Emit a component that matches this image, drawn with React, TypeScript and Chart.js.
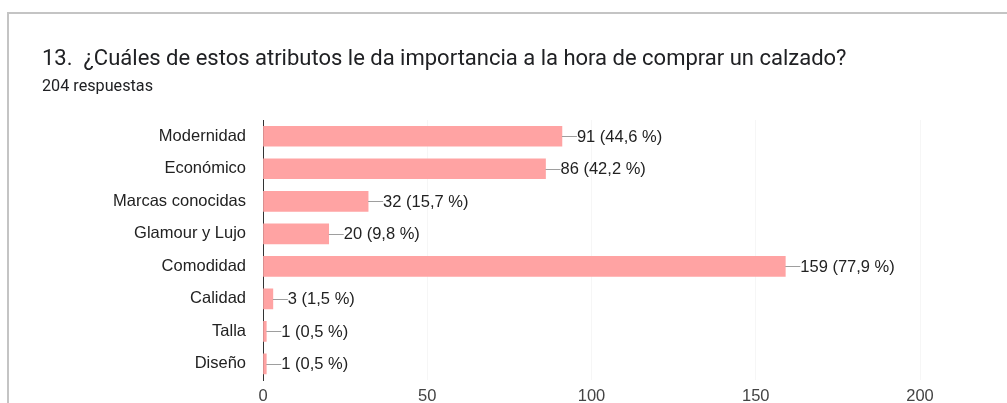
import React, { useEffect, useRef } from "react";
import { Chart, registerables } from "chart.js";

Chart.register(...registerables);

const categories = [
  "Modernidad",
  "Económico",
  "Marcas conocidas",
  "Glamour y Lujo",
  "Comodidad",
  "Calidad",
  "Talla",
  "Diseño",
];
const counts = [91, 86, 32, 20, 159, 3, 1, 1];
const totalResponses = 204;
const xTicks = [0, 50, 100, 150, 200];
const titleText = "13.  ¿Cuáles de estos atributos le da importancia a la hora de comprar un calzado?";
const subtitleText = "204 respuestas";

const CHART_FONT = "'Liberation Sans', Arial, sans-serif";
const TITLE_FONT = "Roboto, Arial, sans-serif";

const labelPlugin = {
  id: "barLabels",
  afterDatasetsDraw(chart: any) {
    const ctx = chart.ctx;
    const meta = chart.getDatasetMeta(0);
    ctx.save();
    ctx.font = `16.5px ${CHART_FONT}`;
    ctx.textBaseline = "middle";
    ctx.textAlign = "left";
    meta.data.forEach((bar: any, i: number) => {
      const v = counts[i];
      const pct = ((v / totalResponses) * 100).toFixed(1).replace(".", ",");
      const x = bar.x;
      const y = bar.y;
      ctx.strokeStyle = "#9e9e9e";
      ctx.lineWidth = 1;
      ctx.beginPath();
      ctx.moveTo(x, Math.round(y) + 0.5);
      ctx.lineTo(x + 15, Math.round(y) + 0.5);
      ctx.stroke();
      ctx.fillStyle = "#222222";
      ctx.fillText(`${v} (${pct} %)`, x + 15, y + 1);
    });
    ctx.restore();
  },
};

export default function App() {
  const canvasRef = useRef<HTMLCanvasElement | null>(null);

  useEffect(() => {
    if (!canvasRef.current) return;
    const chart = new Chart(canvasRef.current, {
      type: "bar",
      data: {
        labels: categories,
        datasets: [
          {
            data: counts,
            backgroundColor: "#ffa3a3",
            borderWidth: 0,
            barThickness: 20,
          },
        ],
      },
      options: {
        indexAxis: "y",
        animation: false,
        responsive: false,
        maintainAspectRatio: false,
        layout: {
          autoPadding: false,
          padding: { top: 120, right: 87, bottom: 0, left: 0 },
        },
        plugins: {
          legend: { display: false },
          tooltip: { enabled: false },
        },
        scales: {
          x: {
            min: 0,
            max: 200,
            afterBuildTicks: (scale: any) => {
              scale.ticks = xTicks.map((v) => ({ value: v }));
            },
            grid: {
              color: "rgba(0,0,0,0.035)",
              drawTicks: false,
            },
            border: { display: false },
            ticks: {
              padding: 6,
              color: "#444444",
              font: { family: CHART_FONT, size: 16.5 },
            },
          },
          y: {
            grid: { display: false, drawTicks: false },
            border: { display: true, color: "#333333", width: 1 },
            ticks: {
              padding: 17,
              color: "#222222",
              font: { family: CHART_FONT, size: 16.5 },
            },
            afterFit: (scale: any) => {
              scale.width = 263;
            },
          },
        },
      },
      plugins: [labelPlugin],
    });
    return () => chart.destroy();
  }, []);

  return (
    <div
      style={{
        position: "fixed",
        left: 0,
        top: 0,
        width: 1007,
        height: 403,
        overflow: "hidden",
        background: "#ffffff",
      }}
    >
      <div
        style={{
          position: "absolute",
          left: 7,
          top: 12,
          width: 1100,
          height: 500,
          borderTop: "2px solid #c4c4c4",
          borderLeft: "2px solid #c4c4c4",
        }}
      />
      <canvas
        ref={canvasRef}
        width={1007}
        height={412}
        style={{ position: "absolute", left: 0, top: 0 }}
      />
      <div
        style={{
          position: "absolute",
          left: 42,
          top: 44,
          fontFamily: TITLE_FONT,
          fontSize: 22,
          color: "#202124",
          whiteSpace: "pre",
          lineHeight: "28px",
        }}
      >
        {titleText}
      </div>
      <div
        style={{
          position: "absolute",
          left: 42,
          top: 76,
          fontFamily: TITLE_FONT,
          fontSize: 16.2,
          color: "#202124",
          lineHeight: "20px",
        }}
      >
        {subtitleText}
      </div>
    </div>
  );
}
